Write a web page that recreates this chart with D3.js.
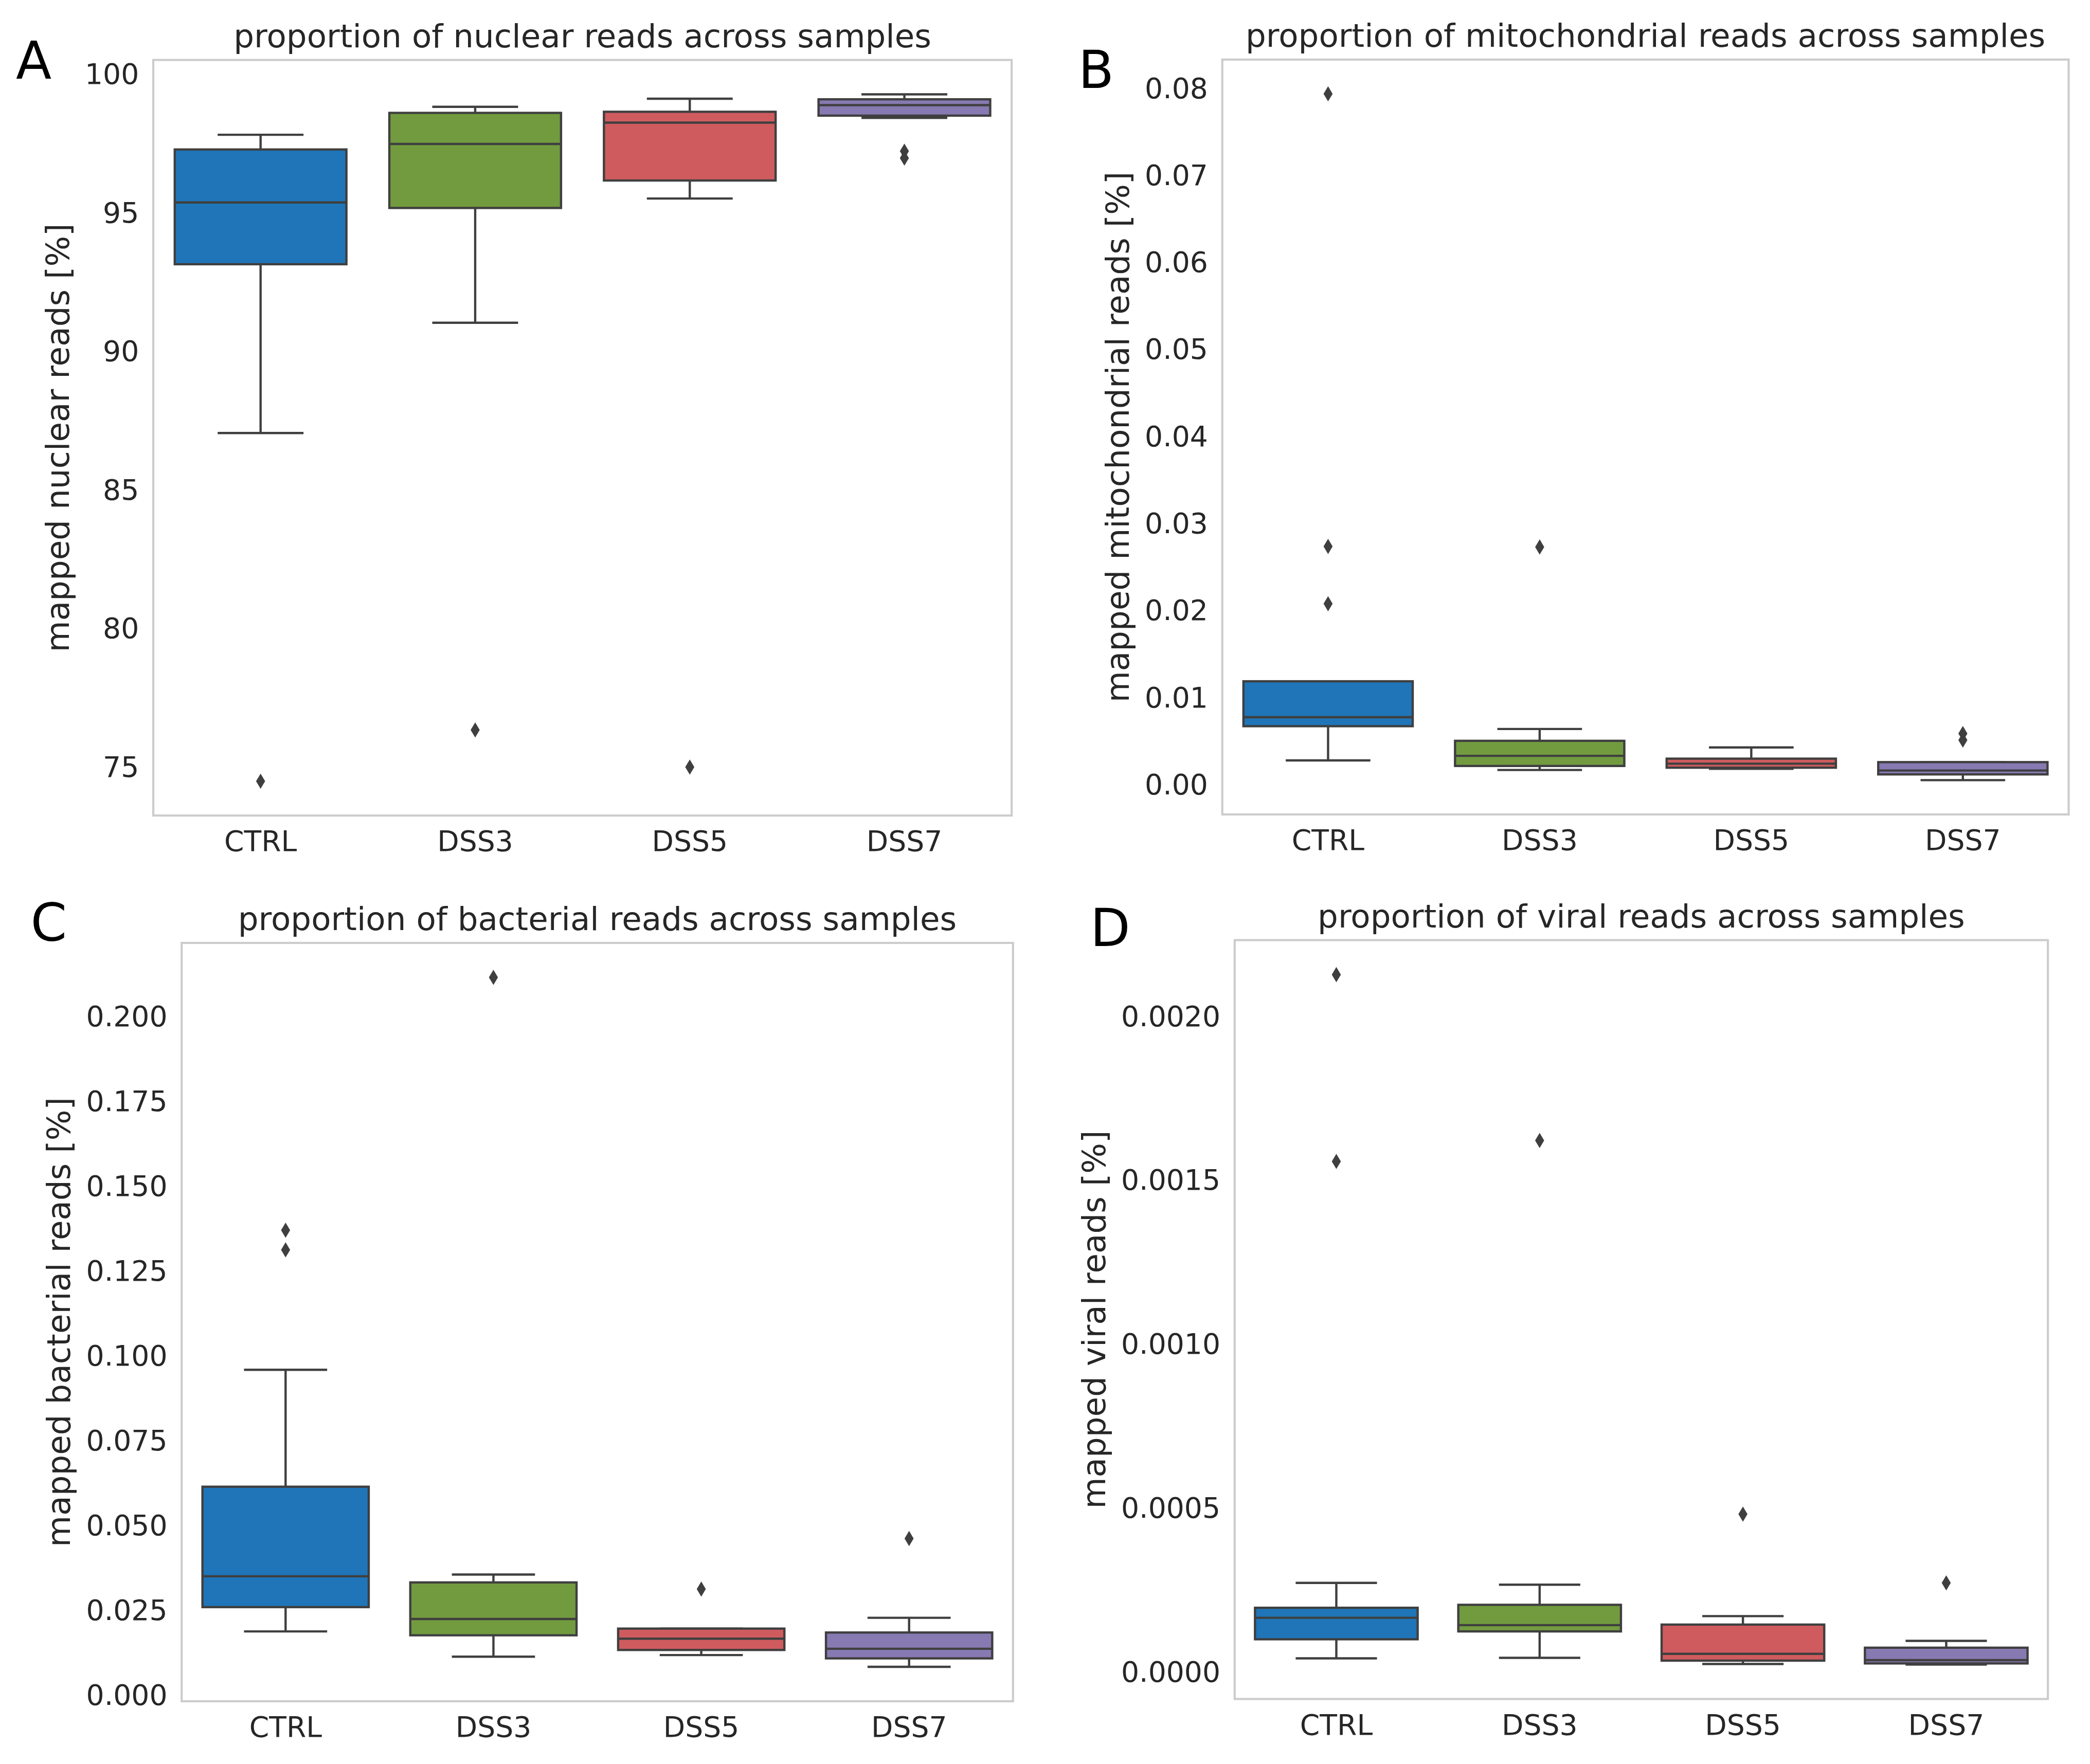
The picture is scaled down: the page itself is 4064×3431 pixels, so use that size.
<!DOCTYPE html>
<html>
<head>
<meta charset="utf-8">
<script src="https://cdn.jsdelivr.net/npm/d3@7"></script>
<style>
  body { margin: 0; background: #fff; }
  svg { display: block; font-family: "DejaVu Sans", sans-serif; }
</style>
</head>
<body>
<div id="chart"></div>
<script>
const groups = ["CTRL", "DSS3", "DSS5", "DSS7"];
const palette = ["#1f75b7", "#729b3f", "#cf5b5e", "#8779b1"];

// each row: [lower whisker, Q1, median, Q3, upper whisker]
const nuclearBox = [
    [87.05, 93.14, 95.37, 97.28, 97.81],
    [91.03, 95.17, 97.48, 98.60, 98.82],
    [95.51, 96.16, 98.25, 98.64, 99.11],
    [98.42, 98.50, 98.88, 99.09, 99.27]
];
const nuclearOutliers = [[74.49], [76.34], [75.00], [97.22, 96.97]];
const nuclearTicks = [75, 80, 85, 90, 95, 100];

const mitoBox = [
    [0.00277, 0.00670, 0.00773, 0.01186, 0.01186],
    [0.00167, 0.00213, 0.00329, 0.00502, 0.00638],
    [0.00180, 0.00193, 0.00239, 0.00297, 0.00426],
    [0.00050, 0.00116, 0.00161, 0.00257, 0.00257]
];
const mitoOutliers = [[0.07935, 0.02735, 0.02077], [0.02729], [], [0.00586, 0.00510]];
const mitoTicks = [0, 0.01, 0.02, 0.03, 0.04, 0.05, 0.06, 0.07, 0.08];

const bactBox = [
    [0.01873, 0.02589, 0.03498, 0.06138, 0.09585],
    [0.01129, 0.01759, 0.02239, 0.03317, 0.03549],
    [0.01176, 0.01326, 0.01660, 0.01956, 0.01956],
    [0.00830, 0.01078, 0.01361, 0.01841, 0.02274]
];
const bactOutliers = [[0.1370, 0.1312], [0.2115], [0.0312], [0.04612]];
const bactTicks = [0, 0.025, 0.05, 0.075, 0.1, 0.125, 0.15, 0.175, 0.2];

const viralBox = [
    [0.0000411, 0.0000994, 0.0001650, 0.0001955, 0.0002713],
    [0.0000428, 0.0001234, 0.0001426, 0.0002045, 0.0002660],
    [0.0000240, 0.0000342, 0.0000550, 0.0001442, 0.0001700],
    [0.0000224, 0.0000257, 0.0000358, 0.0000737, 0.0000945]
];
const viralOutliers = [[0.002127, 0.001557], [0.001621], [0.000481], [0.0002713]];
const viralTicks = [0, 0.0005, 0.001, 0.0015, 0.002];

const panels = [
    { letter: "A", title: "proportion of nuclear reads across samples", ylabel: "mapped nuclear reads [%]",
      box: nuclearBox, out: nuclearOutliers, ticks: nuclearTicks, fmt: "d",
      frame: [115, 45, 759, 612], letterPos: [12, 59] },
    { letter: "B", title: "proportion of mitochondrial reads across samples", ylabel: "mapped mitochondrial reads [%]",
      box: mitoBox, out: mitoOutliers, ticks: mitoTicks, fmt: ".2f",
      frame: [917, 44.7, 1552, 611.2], letterPos: [809, 66] },
    { letter: "C", title: "proportion of bacterial reads across samples", ylabel: "mapped bacterial reads [%]",
      box: bactBox, out: bactOutliers, ticks: bactTicks, fmt: ".3f",
      frame: [136.3, 707.6, 760, 1276.7], letterPos: [23, 706] },
    { letter: "D", title: "proportion of viral reads across samples", ylabel: "mapped viral reads [%]",
      box: viralBox, out: viralOutliers, ticks: viralTicks, fmt: ".4f",
      frame: [926.3, 705.5, 1536.4, 1275], letterPos: [818, 710] }
];

const W = 1568, H = 1568 * 3431 / 4064;
const lineColor = "#3f3f3f";
const textColor = "#262626";
const tickSize = 21.3, titleSize = 24.2;

const svg = d3.select("#chart").append("svg")
    .attr("width", 4064)
    .attr("height", 3431)
    .attr("viewBox", `0 0 ${W} ${H}`);

svg.append("rect").attr("width", W).attr("height", H).attr("fill", "#fff");

function drawPanel(p) {
    const [x0, y0, x1, y1] = p.frame;
    const g = svg.append("g");

    const allVals = p.box.flat().concat(p.out.flat());
    const lo = d3.min(allVals), hi = d3.max(allVals);
    const pad = (hi - lo) * 0.05;

    const xScale = d3.scaleBand()
        .domain(groups)
        .range([x0, x1])
        .paddingInner(0.2)
        .paddingOuter(0.1);
    const yScale = d3.scaleLinear()
        .domain([lo - pad, hi + pad])
        .range([y1, y0]);

    // frame
    g.append("rect")
        .attr("x", x0).attr("y", y0)
        .attr("width", x1 - x0).attr("height", y1 - y0)
        .attr("fill", "none")
        .attr("stroke", "#cccccc")
        .attr("stroke-width", 1.6);

    const yAxisG = g.append("g")
        .attr("transform", `translate(${x0},0)`)
        .call(d3.axisLeft(yScale).tickValues(p.ticks).tickSize(0).tickPadding(10.7)
            .tickFormat(d3.format(p.fmt)));
    const xAxisG = g.append("g")
        .attr("transform", `translate(0,${y1})`)
        .call(d3.axisBottom(xScale).tickSize(0).tickPadding(11.6));

    [yAxisG, xAxisG].forEach(a => {
        a.select(".domain").remove();
        a.attr("font-size", tickSize).attr("font-family", null);
        a.selectAll("text").attr("fill", textColor);
    });

    // boxes
    const bw = xScale.bandwidth();
    const boxes = g.selectAll("g.box").data(p.box).enter()
        .append("g").attr("class", "box");

    boxes.each(function (d, i) {
        const b = d3.select(this);
        const cx = xScale(groups[i]) + bw / 2;
        const [wLo, q1, med, q3, wHi] = d;
        b.append("line").attr("x1", cx).attr("x2", cx)
            .attr("y1", yScale(q3)).attr("y2", yScale(wHi));
        b.append("line").attr("x1", cx).attr("x2", cx)
            .attr("y1", yScale(q1)).attr("y2", yScale(wLo));
        b.append("line").attr("x1", cx - bw / 4).attr("x2", cx + bw / 4)
            .attr("y1", yScale(wHi)).attr("y2", yScale(wHi));
        b.append("line").attr("x1", cx - bw / 4).attr("x2", cx + bw / 4)
            .attr("y1", yScale(wLo)).attr("y2", yScale(wLo));
        b.append("rect")
            .attr("x", xScale(groups[i]))
            .attr("y", yScale(q3))
            .attr("width", bw)
            .attr("height", yScale(q1) - yScale(q3))
            .attr("fill", palette[i]);
        b.append("line").attr("x1", xScale(groups[i])).attr("x2", xScale(groups[i]) + bw)
            .attr("y1", yScale(med)).attr("y2", yScale(med));
        b.selectAll("line, rect")
            .attr("stroke", lineColor)
            .attr("stroke-width", 1.7);

        b.selectAll("path.flier").data(p.out[i]).enter()
            .append("path")
            .attr("class", "flier")
            .attr("d", "M0,-5.7L3.4,0L0,5.7L-3.4,0Z")
            .attr("transform", v => `translate(${cx},${yScale(v)})`)
            .attr("fill", lineColor);
    });

    // title
    g.append("text")
        .attr("x", (x0 + x1) / 2)
        .attr("y", y0 - 9.5)
        .attr("text-anchor", "middle")
        .attr("font-size", titleSize)
        .attr("fill", textColor)
        .text(p.title);

    // y label
    const bb = yAxisG.node().getBBox();
    const lx = x0 + bb.x - 12;
    g.append("text")
        .attr("transform", `translate(${lx},${(y0 + y1) / 2}) rotate(-90)`)
        .attr("text-anchor", "middle")
        .attr("font-size", titleSize)
        .attr("fill", textColor)
        .text(p.ylabel);

    // panel letter
    g.append("text")
        .attr("x", p.letterPos[0])
        .attr("y", p.letterPos[1])
        .attr("font-size", 39)
        .attr("fill", "#000")
        .text(p.letter);
}

panels.forEach(drawPanel);
</script>
</body>
</html>
